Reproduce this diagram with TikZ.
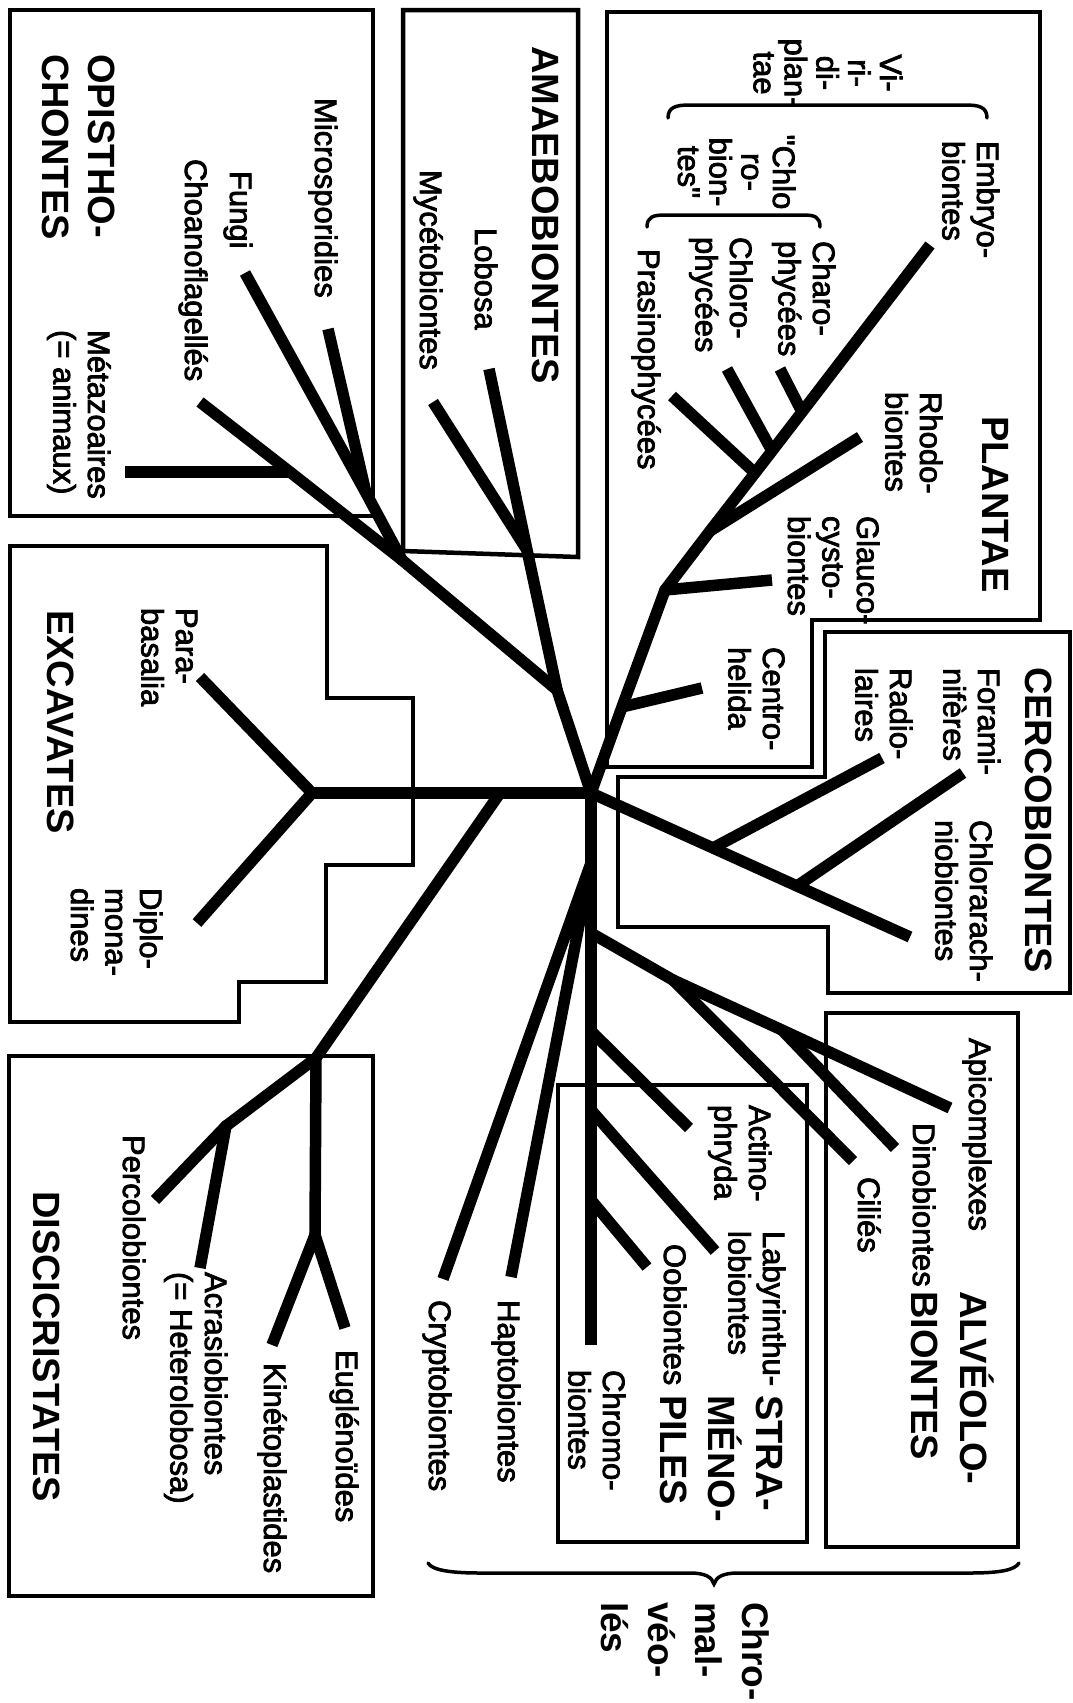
\documentclass[tikz,border=0pt]{standalone}
\usepackage{fontspec}
\setmainfont{Liberation Sans}
\newfontfamily\lf{Liberation Sans}[FakeBold=2.5]
\newcommand\ml[1]{\begin{tabular}[t]{@{}l@{}}#1\end{tabular}}
\newcommand\mc[1]{\begin{tabular}[t]{@{}c@{}}#1\end{tabular}}
\begin{document}
\begin{tikzpicture}[x=1pt,y=-1pt,
  br/.style={line width=11.5pt, line cap=butt, line join=round},
  boxline/.style={line width=4.5pt, line join=miter},
  brk/.style={line width=3.5pt, line cap=round},
  lab/.style={rotate=-90, inner sep=0pt, outer sep=0pt, anchor=base west, font=\lf\fontsize{31}{34.5}\selectfont},
  ttl/.style={rotate=-90, inner sep=0pt, outer sep=0pt, anchor=base west, font=\bfseries\fontsize{38}{48}\selectfont},
  jdot/.style={fill=black}
]
\fill[white] (0,0) rectangle (1072,1703);
\useasboundingbox (0,0) rectangle (1072,1703);

% ---------- boxes ----------
\draw[boxline] (10,10) rectangle (373,516);
\draw[boxline] (403,10) -- (578,10) -- (578,557) -- (403,551) -- cycle;
\draw[boxline] (607,12) -- (1040,12) -- (1040,620) -- (812,620) -- (812,767) -- (607,767) -- cycle;
\draw[boxline] (825,632) -- (1070,632) -- (1070,993) -- (828,993) -- (828,927) -- (618,927) -- (618,777) -- (825,777) -- cycle;
\draw[boxline] (10,546) -- (327,546) -- (327,698) -- (413,698) -- (413,865) -- (326,865) -- (326,982) -- (239,982) -- (239,1022) -- (10,1022) -- cycle;
\draw[boxline] (9,1056) rectangle (373,1596);
\draw[boxline] (826,1013) rectangle (1018,1547);
\draw[boxline] (558,1085) rectangle (807,1542);

% ---------- tree coordinates ----------
\coordinate (C) at (591,793);
% unikonts
\coordinate (uj) at (557,690);
\coordinate (mj) at (527,550);
\coordinate (lobT) at (489,369);
\coordinate (mycT) at (433,402);
\coordinate (oj) at (402,560);
\coordinate (fm) at (366,493);
\coordinate (fungT) at (245,273);
\coordinate (micT) at (328,329);
\coordinate (mz) at (290,472);
\coordinate (choT) at (200,402);
\coordinate (metT) at (125,472);
% excavates / discicristates
\coordinate (d0) at (500,793);
\coordinate (ex) at (312,793);
\coordinate (paraT) at (200,677);
\coordinate (dipT) at (197,923);
\coordinate (dj) at (316,1058);
\coordinate (vk) at (315,1235);
\coordinate (kinT) at (272,1345);
\coordinate (eugT) at (345,1328);
\coordinate (pj) at (226,1126);
\coordinate (percT) at (155,1200);
\coordinate (acrT) at (200,1268);
% plantae
\coordinate (cj) at (622,707);
\coordinate (gj) at (665,590);
\coordinate (rj) at (710,531);
\coordinate (prj) at (755,473);
\coordinate (chj) at (772,451);
\coordinate (crj) at (802,412);
\coordinate (embT) at (930,245);
\coordinate (centT) at (702,688);
\coordinate (glaT) at (772,580);
\coordinate (rhoT) at (860,437);
\coordinate (praT) at (672,396);
\coordinate (chlT) at (727,369);
\coordinate (charT) at (780,369);
% cercobiontes
\coordinate (rdj) at (713,848);
\coordinate (fj) at (797,886);
\coordinate (chlaT) at (910,937);
\coordinate (radT) at (882,758);
\coordinate (forT) at (963,773);
% chromalveolates
\coordinate (chrT) at (591,1345);
\coordinate (ch2) at (591,863);
\coordinate (crT) at (443,1279);
\coordinate (hapT) at (511,1277);
\coordinate (av0) at (591,933);
\coordinate (avj) at (673,980);
\coordinate (dnj) at (782,1030);
\coordinate (apiT) at (950,1108);
\coordinate (dinT) at (895,1148);
\coordinate (cilT) at (853,1161);
\coordinate (act0) at (591,1031);
\coordinate (actT) at (689,1128);
\coordinate (lab0) at (591,1110);
\coordinate (labT) at (715,1251);
\coordinate (oo0) at (591,1200);
\coordinate (ooT) at (647,1267);

% ---------- branches ----------
\draw[br] (C) -- (uj) -- (mj) -- (lobT);
\draw[br] (mycT) -- (mj);
\draw[br] (uj) -- (oj) -- (fm) -- (fungT);
\draw[br] (micT) -- (fm);
\draw[br] (oj) -- (mz) -- (choT);
\draw[br] (metT) -- (mz);

\draw[br] (C) -- (d0) -- (ex);
\draw[br] (paraT) -- (ex) -- (dipT);
\draw[br] (d0) -- (dj) -- (vk);
\draw[br] (dj) -- (pj) -- (percT);
\draw[br] (acrT) -- (pj);
\draw[br] (kinT) -- (vk) -- (eugT);

\draw[br] (C) -- (cj) -- (gj) -- (rj) -- (prj) -- (chj) -- (crj) -- (embT);
\draw[br] (centT) -- (cj);
\draw[br] (glaT) -- (gj);
\draw[br] (rhoT) -- (rj);
\draw[br] (praT) -- (prj);
\draw[br] (chlT) -- (chj);
\draw[br] (charT) -- (crj);

\draw[br] (C) -- (rdj) -- (fj) -- (chlaT);
\draw[br] (radT) -- (rdj);
\draw[br] (forT) -- (fj);

\draw[br] (C) -- (chrT);
\draw[br] (crT) -- (ch2) -- (hapT);
\draw[br] (av0) -- (avj) -- (dnj) -- (apiT);
\draw[br] (dinT) -- (dnj);
\draw[br] (avj) -- (cilT);
\draw[br] (act0) -- (actT);
\draw[br] (lab0) -- (labT);
\draw[br] (oo0) -- (ooT);

\foreach \j in {C,uj,oj,ex,dj,vk,pj,gj,avj,ch2}
  \fill[jdot] (\j) circle[radius=5.75pt];

% ---------- brackets ----------
\draw[brk] (668,118) .. controls (668,107) and (676,105) .. (690,105) -- (965,105) .. controls (979,105) and (987,107) .. (987,118);
\draw[brk] (647,227) .. controls (647,217) and (653,215) .. (665,215) -- (803,215) .. controls (815,215) and (820,217) .. (820,227);
\draw[brk] (428,1563) .. controls (432,1570) and (450,1573) .. (480,1573) -- (690,1573) .. controls (705,1573) and (712,1577) .. (714,1584) .. controls (716,1577) and (723,1573) .. (738,1573) -- (970,1573) .. controls (1000,1573) and (1015,1570) .. (1019,1563);

% ---------- titles ----------
\node[ttl, font=\bfseries\fontsize{38}{46}\selectfont] (opi) at (88,54) {\ml{OPISTHO-\\CHONTES}};
\node[ttl] (amo) at (532,46) {AMAEBOBIONTES};
\node[ttl] (pla) at (982,416) {PLANTAE};
\node[ttl] (cer) at (1025,667) {CERCOBIONTES};
\node[ttl] (exc) at (47,610) {EXCAVATES};
\node[ttl] (dis) at (34,1191) {DISCICRISTATES};
\node[ttl, font=\bfseries\fontsize{38}{49}\selectfont] (alv) at (960,1291) {\ml{ALVÉOLO-\\BIONTES}};
\node[ttl, font=\bfseries\fontsize{38}{47.5}\selectfont] (str) at (756,1395) {\ml{STRA-\\MÉNO-\\PILES}};
\node[ttl, font=\bfseries\fontsize{37}{47}\selectfont] (chv) at (742,1602) {\ml{Chro-\\mal-\\véo-\\lés}};

% ---------- labels ----------
\node[lab] (mic) at (315,98) {Microsporidies};
\node[lab] (fun) at (230,171) {Fungi};
\node[lab] (cho) at (185,159) {Choanoflagellés};
\node[lab] (met) at (88,330) {\ml{Métazoaires\\(= animaux)}};
\node[lab] (myc) at (420,170) {Mycétobiontes};
\node[lab] (lob) at (475,228) {Lobosa};
\node[lab] (emb) at (977,141) {\ml{Embryo-\\biontes}};
\node[lab, anchor=base, font=\lf\fontsize{31}{31}\selectfont] (vir) at (880,73) {\mc{Vi-\\ri-\\di-\\plan-\\tae}};
\node[lab, anchor=base, font=\lf\fontsize{31}{31.5}\selectfont] (chb) at (773,172) {\mc{\char34 Chlo\\ro-\\bion-\\tes\char34}};
\node[lab] (cha) at (813,241) {\ml{Charo-\\phycées}};
\node[lab] (chl) at (730,237) {\ml{Chloro-\\phycées}};
\node[lab] (pra) at (638,249) {Prasinophycées};
\node[lab] (rho) at (920,392) {\ml{Rhodo-\\biontes}};
\node[lab] (gla) at (857,516) {\ml{Glauco-\\cysto-\\biontes}};
\node[lab] (cen) at (763,647) {\ml{Centro-\\helida}};
\node[lab] (for) at (978,668) {\ml{Forami-\\nifères}};
\node[lab] (rad) at (890,668) {\ml{Radio-\\laires}};
\node[lab] (chla) at (970,820) {\ml{Chlorarach-\\niobiontes}};
\node[lab] (par) at (176,608) {\ml{Para-\\basalia}};
\node[lab] (dip) at (140,888) {\ml{Diplo-\\mona-\\dines}};
\node[lab] (per) at (123,1135) {Percolobiontes};
\node[lab] (acr) at (205,1272) {\ml{Acrasiobiontes\\(= Heterolobosa)}};
\node[lab] (kin) at (264,1363) {Kinétoplastides};
\node[lab] (eug) at (336,1350) {Euglénoïdes};
\node[lab] (cry) at (429,1300) {Cryptobiontes};
\node[lab] (hap) at (498,1300) {Haptobiontes};
\node[lab] (api) at (969,1038) {Apicomplexes};
\node[lab] (din) at (913,1123) {Dinobiontes};
\node[lab] (cil) at (858,1177) {Ciliés};
\node[lab] (act) at (749,1105) {\ml{Actino-\\phryda}};
\node[lab] (laby) at (763,1231) {\ml{Labyrinthu-\\lobiontes}};
\node[lab] (oob) at (664,1244) {Oobiontes};
\node[lab] (chro) at (603,1370) {\ml{Chromo-\\biontes}};
\end{tikzpicture}
\end{document}
